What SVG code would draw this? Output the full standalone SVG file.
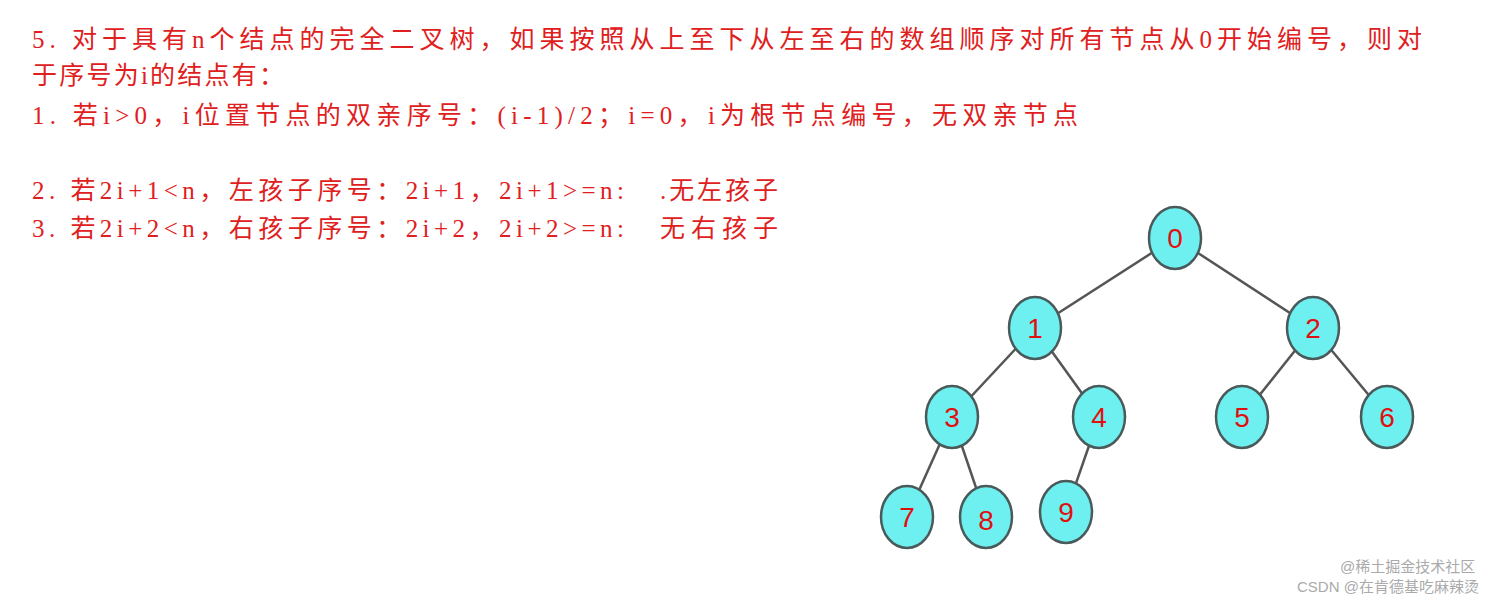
<svg xmlns="http://www.w3.org/2000/svg" width="1512" height="602" viewBox="0 0 1512 602">
<style>
.t{font-family:"Liberation Serif","Noto Sans CJK SC",serif;font-size:25px;fill:#e02020}
.n ellipse{fill:#6ef0f0;stroke:#4a5a5a;stroke-width:2.5}
.n text{font-family:"Liberation Sans",sans-serif;font-size:28px;fill:#e01010;text-anchor:middle}
.e line{stroke:#555;stroke-width:2.5}
.w{font-family:"Liberation Sans","Noto Sans CJK SC",sans-serif;font-size:15px;fill:#aaa}
</style>
<rect width="1512" height="602" fill="#fff"/>
<text class="t" x="32" y="48" textLength="1390">5. 对于具有n个结点的完全二叉树，如果按照从上至下从左至右的数组顺序对所有节点从0开始编号，则对</text>
<text class="t" x="32" y="84" textLength="252">于序号为i的结点有：</text>
<text class="t" x="32" y="124" textLength="1046">1. 若i&gt;0，i位置节点的双亲序号：(i-1)/2；i=0，i为根节点编号，无双亲节点</text>
<text class="t" x="32" y="199" textLength="592">2. 若2i+1&lt;n，左孩子序号：2i+1，2i+1&gt;=n:</text>
<text class="t" x="660" y="199" textLength="118">.无左孩子</text>
<text class="t" x="32" y="237" textLength="592">3. 若2i+2&lt;n，右孩子序号：2i+2，2i+2&gt;=n:</text>
<text class="t" x="660" y="237" textLength="118">无右孩子</text>
<g class="e" id="edges">
<line x1="1175" y1="238" x2="1035" y2="328"/>
<line x1="1175" y1="238" x2="1313" y2="328"/>
<line x1="1035" y1="328" x2="952" y2="417"/>
<line x1="1035" y1="328" x2="1099" y2="417"/>
<line x1="1313" y1="328" x2="1242" y2="417"/>
<line x1="1313" y1="328" x2="1387" y2="417"/>
<line x1="952" y1="417" x2="907" y2="517"/>
<line x1="952" y1="417" x2="986" y2="517"/>
<line x1="1099" y1="417" x2="1066" y2="512"/>
</g>
<g class="n" id="n0"><ellipse cx="1175" cy="238" rx="26" ry="31"/><text x="1175" y="248">0</text></g>
<g class="n" id="n1"><ellipse cx="1035" cy="328" rx="26" ry="31"/><text x="1035" y="338">1</text></g>
<g class="n" id="n2"><ellipse cx="1313" cy="328" rx="26" ry="31"/><text x="1313" y="338">2</text></g>
<g class="n" id="n3"><ellipse cx="952" cy="417" rx="26" ry="31"/><text x="952" y="427">3</text></g>
<g class="n" id="n4"><ellipse cx="1099" cy="417" rx="26" ry="31"/><text x="1099" y="427">4</text></g>
<g class="n" id="n5"><ellipse cx="1242" cy="417" rx="26" ry="31"/><text x="1242" y="427">5</text></g>
<g class="n" id="n6"><ellipse cx="1387" cy="417" rx="26" ry="31"/><text x="1387" y="427">6</text></g>
<g class="n" id="n7"><ellipse cx="907" cy="517" rx="26" ry="31"/><text x="907" y="527">7</text></g>
<g class="n" id="n8"><ellipse cx="986" cy="517" rx="26" ry="31"/><text x="986" y="530">8</text></g>
<g class="n" id="n9"><ellipse cx="1066" cy="512" rx="26" ry="31"/><text x="1066" y="522">9</text></g>
<text class="w" x="1340" y="572">@稀土掘金技术社区</text>
<text class="w" x="1297" y="592">CSDN @在肯德基吃麻辣烫</text>
</svg>
